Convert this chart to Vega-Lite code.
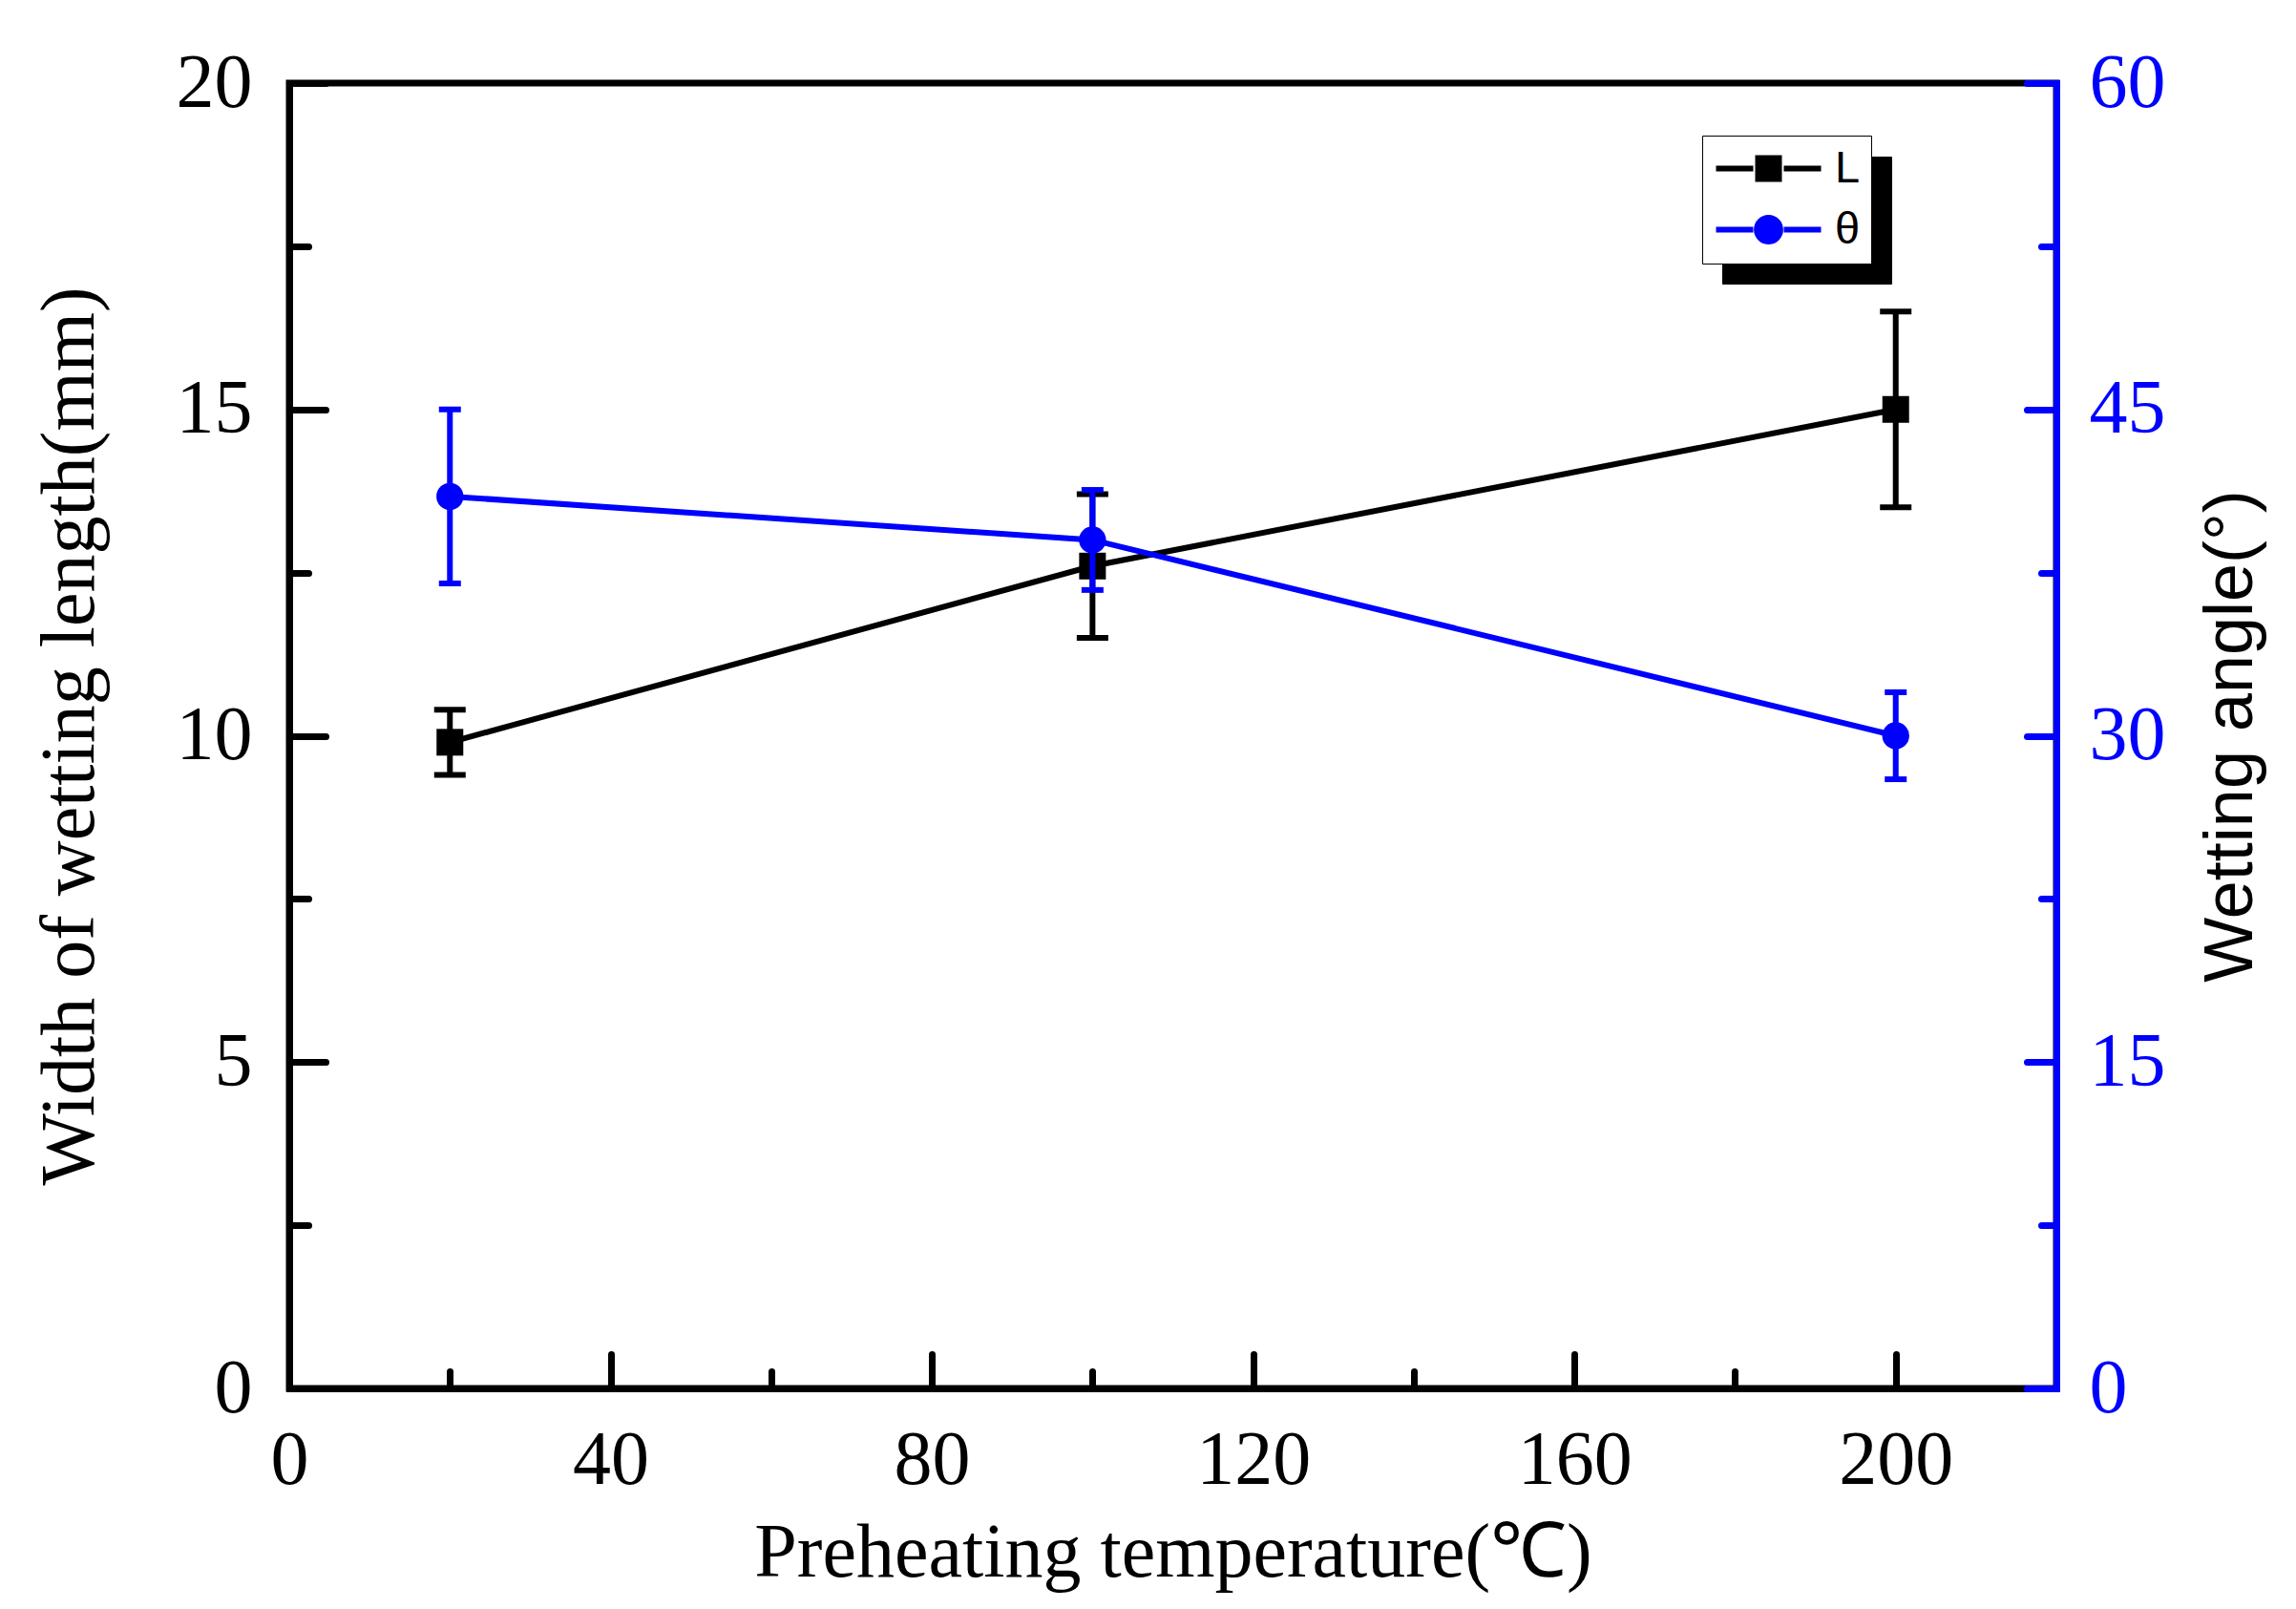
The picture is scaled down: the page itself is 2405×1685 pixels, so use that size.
{
  "$schema": "https://vega.github.io/schema/vega-lite/v6.json",
  "width": 1851,
  "height": 1367,
  "autosize": {"type": "none"},
  "padding": {"left": 303, "top": 87, "right": 251, "bottom": 231},
  "background": "white",
  "config": {
    "view": {"stroke": "black", "strokeWidth": 7},
    "axis": {
      "grid": false,
      "domainWidth": 7,
      "domainCap": "square",
      "tickWidth": 7,
      "tickCap": "round",
      "labelFont": "Liberation Serif",
      "labelFontSize": 80,
      "labelOverlap": false,
      "labelFlush": false,
      "titleFont": "Liberation Serif",
      "titleFontSize": 80,
      "titleFontWeight": "normal"
    },
    "legend": {
      "symbolSize": 1600,
      "symbolOffset": 35,
      "symbolOpacity": 1,
      "symbolStrokeWidth": 6,
      "labelOffset": 46,
      "labelFont": "Liberation Sans",
      "labelFontSize": 47,
      "padding": 11,
      "rowPadding": 16
    }
  },
  "data": {
    "values": [
      {"T": 20, "series": "L", "value": 9.9, "err": 0.5},
      {"T": 100, "series": "L", "value": 12.6, "err": 1.1},
      {"T": 200, "series": "L", "value": 15.0, "err": 1.5},
      {"T": 20, "series": "θ", "value": 41.0, "err": 4.0},
      {"T": 100, "series": "θ", "value": 39.0, "err": 2.3},
      {"T": 200, "series": "θ", "value": 30.0, "err": 2.0}
    ]
  },
  "layer": [
    {
      "transform": [{"filter": "datum.series === 'L'"}],
      "encoding": {
        "x": {
          "field": "T",
          "type": "quantitative",
          "scale": {"domain": [0, 220], "nice": false},
          "axis": {
            "values": [0, 20, 40, 60, 80, 100, 120, 140, 160, 180, 200],
            "labelExpr": "datum.value % 40 === 0 ? datum.label : ''",
            "tickSize": {"condition": {"test": "datum.value % 40 === 0", "value": -36}, "value": -18},
            "labelPadding": 72,
            "domainColor": "black",
            "tickColor": "black",
            "labelColor": "black",
            "title": "Preheating temperature(℃)",
            "titlePadding": 0
          }
        },
        "y": {
          "field": "value",
          "type": "quantitative",
          "scale": {"domain": [0, 20], "nice": false},
          "axis": {
            "orient": "left",
            "values": [0, 2.5, 5, 7.5, 10, 12.5, 15, 17.5, 20],
            "labelExpr": "datum.value % 5 === 0 ? datum.label : ''",
            "tickSize": {"condition": {"test": "datum.value % 5 === 0", "value": -38}, "value": -20},
            "labelPadding": 77,
            "domainColor": "black",
            "tickColor": "black",
            "labelColor": "black",
            "title": "Width of wetting length(mm)",
            "titlePadding": 70
          }
        }
      },
      "layer": [
        {"mark": {"type": "line", "color": "black", "strokeWidth": 6}, "encoding": {}},
        {
          "mark": {"type": "errorbar", "color": "black", "opacity": 1, "ticks": true, "size": 33, "thickness": 6},
          "encoding": {"yError": {"field": "err"}}
        },
        {
          "mark": {"type": "point", "shape": "square", "filled": true, "color": "black", "opacity": 1, "size": 784},
          "encoding": {}
        },
        {
          "mark": {"type": "point", "opacity": 0},
          "encoding": {
            "fill": {
              "field": "series",
              "type": "nominal",
              "scale": {"domain": ["L", "θ"], "range": ["#000000", "#0000ff"]},
              "legend": {
                "title": null,
                "orient": "none",
                "legendX": 1480,
                "legendY": 55,
                "fillColor": "white",
                "strokeColor": "black",
                "labelColor": "black",
                "zindex": 2
              }
            },
            "stroke": {
              "field": "series",
              "type": "nominal",
              "scale": {"domain": ["L", "θ"], "range": ["#000000", "#0000ff"]}
            },
            "shape": {
              "field": "series",
              "type": "nominal",
              "scale": {
                "domain": ["L", "θ"],
                "range": [
                  "M-2.75,0H-0.8M-0.55,-0.55H0.55V0.55H-0.55ZM0.8,0H2.75",
                  "M-2.75,0H-0.8M0.62,0A0.62,0.62,0,1,1,-0.62,0A0.62,0.62,0,1,1,0.62,0ZM0.8,0H2.75"
                ]
              }
            },
            "size": {
              "field": "series",
              "type": "ordinal",
              "scale": {"domain": ["θ", "L"], "range": [1600, 1600]},
              "legend": {
                "title": null,
                "orient": "none",
                "legendX": 1501,
                "legendY": 77,
                "fillColor": "black",
                "strokeColor": "black",
                "labelColor": "black",
                "symbolType": "M-2.75,0H-0.8M-0.55,-0.55H0.55V0.55H-0.55ZM0.8,0H2.75",
                "symbolFillColor": "black",
                "symbolStrokeColor": "black",
                "zindex": 1
              }
            }
          }
        }
      ]
    },
    {
      "transform": [{"filter": "datum.series === 'θ'"}],
      "encoding": {
        "x": {"field": "T", "type": "quantitative"},
        "y": {
          "field": "value",
          "type": "quantitative",
          "scale": {"domain": [0, 60], "nice": false},
          "axis": {
            "orient": "right",
            "values": [0, 7.5, 15, 22.5, 30, 37.5, 45, 52.5, 60],
            "labelExpr": "datum.value % 15 === 0 ? datum.label : ''",
            "tickSize": {"condition": {"test": "datum.value % 15 === 0", "value": -31}, "value": -16},
            "labelPadding": 65,
            "domainColor": "#0000ff",
            "tickColor": "#0000ff",
            "labelColor": "#0000ff",
            "title": "Wetting angle(°)",
            "titleFont": "Liberation Sans",
            "titleFontSize": 72,
            "titleColor": "black",
            "titleAngle": -90,
            "titleBaseline": "top",
            "titlePadding": 33
          }
        }
      },
      "layer": [
        {"mark": {"type": "line", "color": "#0000ff", "strokeWidth": 6}, "encoding": {}},
        {
          "mark": {"type": "errorbar", "color": "#0000ff", "opacity": 1, "ticks": true, "size": 23, "thickness": 6},
          "encoding": {"yError": {"field": "err"}}
        },
        {
          "mark": {"type": "point", "shape": "circle", "filled": true, "color": "#0000ff", "opacity": 1, "size": 804},
          "encoding": {}
        }
      ]
    }
  ],
  "resolve": {"scale": {"y": "independent"}, "axis": {"y": "independent"}}
}
